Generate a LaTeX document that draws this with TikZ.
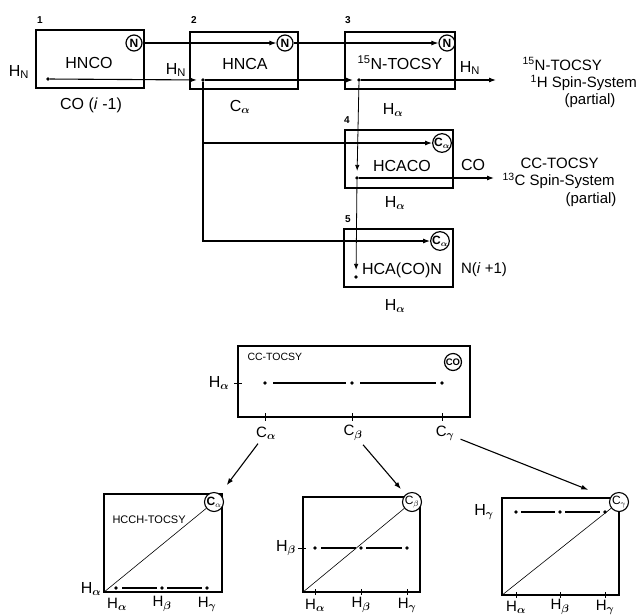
\documentclass[tikz,border=0pt]{standalone}
\usepackage{fontspec}
\setmainfont{Liberation Sans}
\usetikzlibrary{arrows.meta}
\begin{document}
\begin{tikzpicture}[x=1pt,y=-1pt,
  expbox/.style={draw,line width=1.1pt,inner sep=0pt},
  circ/.style={circle,draw,line width=1.2pt,inner sep=0pt,minimum size=16pt,font=\fontsize{12}{12}\selectfont\bfseries\boldmath},
  bcirc/.style={circle,draw,line width=1.1pt,inner sep=0pt,minimum size=19pt,fill=white,font=\fontsize{12}{12}\selectfont},
  pt/.style={circle,fill,inner sep=0pt,minimum size=3.8pt},
  arr/.style={line width=1.1pt,-{Latex[length=7pt,width=5pt]}},
  varr/.style={line width=0.8pt,-{Latex[length=6pt,width=4.5pt]}},
  ln/.style={line width=1.1pt},
  thin/.style={line width=0.6pt},
  big/.style={font=\fontsize{16}{17}\selectfont\boldmath},
  lab/.style={font=\fontsize{15}{16}\selectfont\boldmath},
  num/.style={font=\fontsize{10}{10}\selectfont\bfseries},
  sml/.style={font=\fontsize{10.5}{11}\selectfont}]
\useasboundingbox (0,0) rectangle (639,614);
% ---------- top: boxes ----------
\node[expbox,minimum width=108pt,minimum height=58pt] (b1) at (90,59) {};
\node[expbox,minimum width=108pt,minimum height=57pt] (b2) at (244,60.5) {};
\node[expbox,minimum width=110pt,minimum height=57pt] (b3) at (400,60.5) {};
\node[expbox,minimum width=108pt,minimum height=58pt] (b4) at (399,159) {};
\node[expbox,minimum width=109pt,minimum height=58pt] (b5) at (398.5,258) {};
% numbers
\node[num] (k1) at (40,20) {1};
\node[num] (k2) at (194,20) {2};
\node[num] (k3) at (348,20) {3};
\node[num] (k4) at (347,120) {4};
\node[num] (k5) at (348,219) {5};
% box titles
\node[big] (t1) at (89,63) {HNCO};
\node[big] (t2) at (245,64) {HNCA};
\node[big] (t3) at (400,63) {\textsuperscript{15}N-TOCSY};
\node[big] (t4) at (402,166) {HCACO};
\node[big,inner sep=0pt] (t5) at (402,270) {HCA(CO)N};
% circles
\node[circ] (n1) at (134,43) {N};
\node[circ] (n2) at (285,43) {N};
\node[circ] (n3) at (447,43) {N};
\node[circ] (c4) at (442,143) {C$_\alpha$};
\node[circ] (c5) at (440,241) {C$_\alpha$};
% dots
\node[pt] (d1) at (48,79) {};
\node[pt] (d2) at (203,80) {};
\node[pt] (d3) at (359,80) {};
\node[pt] (d4) at (357,178) {};
\node[pt] (d5) at (356,277) {};
\coordinate (e3) at (496,80);
\coordinate (e4) at (494,178);
% labels
\node[big] (h1) at (19,72) {H\textsubscript{N}};
\node[big] (h2) at (176,70) {H\textsubscript{N}};
\node[big] (h3) at (470,68) {H\textsubscript{N}};
\node[big] (co1) at (91,105) {CO (\textit{i} -1)};
\node[big] (ca2) at (240,107) {C$_\alpha$};
\node[big] (ha3) at (393,110) {H$_\alpha$};
\node[big] (co4) at (473,165) {CO};
\node[big] (ha4) at (395,203) {H$_\alpha$};
\node[lab] (n5) at (484,270) {N(\textit{i} +1)};
\node[big] (ha5) at (395,306) {H$_\alpha$};
\node[lab,anchor=west] (r1a) at (519,64) {\textsuperscript{15}N-TOCSY};
\node[lab,anchor=west] (r1b) at (527,83) {\textsuperscript{1}H Spin-System};
\node[lab] (r1c) at (590,101) {(partial)};
\node[lab,anchor=west] (r2a) at (517,163) {CC-TOCSY};
\node[lab,anchor=west] (r2b) at (499,181) {\textsuperscript{13}C Spin-System};
\node[lab] (r2c) at (591,200) {(partial)};
% connectors
\draw[arr] (n1) -- (n2);
\draw[arr] (n2) -- (n3);
\draw[arr,shorten >=4pt] (d1) -- (d2);
\draw[arr,shorten >=4pt] (d2) -- (d3);
\draw[arr] (d3) -- (e3);
\draw[arr] (d4) -- (e4);
\draw[varr,shorten >=5pt] (d3) -- (d4);
\draw[varr,shorten >=5pt] (d4) -- (d5);
\draw[arr] (d2) |- (c4);
\draw[arr] (d2) |- (c5);
% ---------- CC-TOCSY strip ----------
\node[expbox,minimum width=232pt,minimum height=71pt] (cc) at (354,381.5) {};
\node[sml,anchor=west] (cct) at (244,357) {CC-TOCSY};
\node[circ,minimum size=17pt,font=\fontsize{9.5}{9}\selectfont\bfseries] (cco) at (453,362) {CO};
\node[pt] (p1) at (265,383) {};
\node[pt] (p2) at (352,383) {};
\node[pt] (p3) at (442,383) {};
\draw[ln,shorten <=6pt,shorten >=4pt] (p1) -- (p2);
\draw[ln,shorten <=6pt,shorten >=4pt] (p2) -- (p3);
\node[big] (hacc) at (219,383) {H$_\alpha$};
\draw[thin] (234,383) -- (242,383);
\foreach \x in {265,352,442} \draw[thin] (\x,413) -- (\x,421);
\node[lab] (lca) at (266,433) {C$_\alpha$};
\node[lab] (lcb) at (353,433) {C$_\beta$};
\node[lab] (lcg) at (445,433) {C$_\gamma$};
% ---------- 2D panels ----------
\node[expbox,minimum width=118pt,minimum height=98pt] (q1) at (163,543) {};
\node[expbox,minimum width=117pt,minimum height=95pt] (q2) at (361.5,544.5) {};
\node[expbox,minimum width=117pt,minimum height=97pt] (q3) at (560.5,546.5) {};
\node[bcirc] (pc1) at (214,502) {\bfseries C$_\alpha$};
\node[bcirc] (pc2) at (412,502) {C$_\beta$};
\node[bcirc] (pc3) at (619,502) {C$_\gamma$};
\draw[arr,shorten <=1pt,shorten >=11pt] (lca) -- (pc1);
\draw[arr,shorten <=1pt,shorten >=7pt] (lcb) -- (pc2);
\draw[arr,shorten <=3pt,shorten >=23pt] (lcg) -- (pc3);
\draw[thin] (q1.south west) -- (pc1);
\draw[thin] (q2.south west) -- (pc2);
\draw[thin] (q3.south west) -- (pc3);
\node[font=\fontsize{11}{11}\selectfont,anchor=west] (hcch) at (109,520) {HCCH-TOCSY};
% panel 1 dots
\node[pt] (a1) at (116,588) {};
\node[pt] (a2) at (162,588) {};
\node[pt] (a3) at (207,588) {};
\draw[line width=1.7pt,shorten <=4pt,shorten >=3pt] (a1) -- (a2);
\draw[line width=1.7pt,shorten <=3pt,shorten >=3pt] (a2) -- (a3);
\node[big] (ya1) at (91,589) {H$_\alpha$};
\node[lab] (xa1) at (117,604) {H$_\alpha$};
\node[lab] (xa2) at (162,604) {H$_\beta$};
\node[lab] (xa3) at (207,604) {H$_\gamma$};
% panel 2 dots
\node[pt] (b1d) at (315,548) {};
\node[pt] (b2d) at (361,548) {};
\node[pt] (b3d) at (407,548) {};
\draw[ln,shorten <=4pt,shorten >=3pt] (b1d) -- (b2d);
\draw[line width=1.7pt,shorten <=3pt,shorten >=3pt] (b2d) -- (b3d);
\draw[thin] (298,548) -- (306,548);
\node[big] (yb) at (286,548) {H$_\beta$};
\foreach \x in {315,361,407} \draw[thin] (\x,589) -- (\x,595);
\node[lab] (xb1) at (315,605) {H$_\alpha$};
\node[lab] (xb2) at (361,605) {H$_\beta$};
\node[lab] (xb3) at (407,605) {H$_\gamma$};
% panel 3 dots
\node[pt] (g1) at (516,512) {};
\node[pt] (g2) at (560,512) {};
\node[pt] (g3) at (605,512) {};
\draw[ln,shorten <=3pt,shorten >=3pt] (g1) -- (g2);
\draw[ln,shorten <=3pt,shorten >=3pt] (g2) -- (g3);
\node[big] (yg) at (484,512) {H$_\gamma$};
\foreach \x in {516,560,605} \draw[thin] (\x,592) -- (\x,598);
\node[lab] (xg1) at (516,607) {H$_\alpha$};
\node[lab] (xg2) at (560,607) {H$_\beta$};
\node[lab] (xg3) at (605,607) {H$_\gamma$};
\end{tikzpicture}
\end{document}
